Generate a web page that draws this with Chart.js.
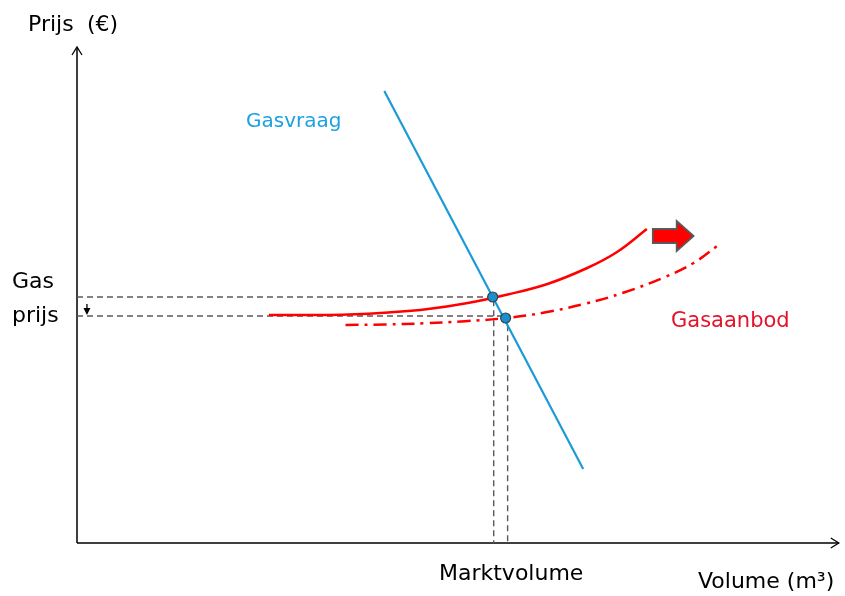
<!DOCTYPE html>
<html>
<head>
<meta charset="utf-8">
<script src="https://cdn.jsdelivr.net/npm/chart.js@4/dist/chart.umd.min.js"></script>
<style>
  html, body { margin: 0; padding: 0; background: #fff; }
  canvas { display: block; }
</style>
</head>
<body>
<canvas id="gasChart" width="845" height="596"></canvas>
<script>
// market diagram values (abstract units: volume on x, price on y)
const demandX = [309, 509];
const demandY = [452, 74];

const supplyX = [193, 233, 273, 313, 353, 393, 433, 473, 513, 543, 573];
const supplyY = [228, 228, 228.5, 230.5, 234, 240, 248.5, 259, 275, 291, 314];

const shiftedX = [270, 310, 350, 390, 430, 470, 510, 550, 590, 620, 645];
const shiftedY = [218, 218.5, 219.8, 221.8, 224.8, 230.5, 239, 250.5, 265.5, 280, 298];

const equilibriumX = [418, 431];
const equilibriumY = [246, 225];

const guideX = [419, 433];
const guideY = [246, 227];

const RED = '#ff0000';
const BLUE = '#1a9bd7';
const GREY = '#5a5a5a';
const FONT = '"DejaVu Sans", Verdana, sans-serif';

const toPoints = (xs, ys) => xs.map((x, i) => ({ x, y: ys[i] }));

function guidePath(i) {
  return [
    { x: 0, y: guideY[i] },
    { x: guideX[i], y: guideY[i] },
    { x: guideX[i], y: 0 },
  ];
}

function arrowHead(ctx, x, y, dir) {
  // open "V" arrow head like the axis arrows
  ctx.beginPath();
  if (dir === 'up') {
    ctx.moveTo(x - 5, y + 8); ctx.lineTo(x, y); ctx.lineTo(x + 5, y + 8);
  } else {
    ctx.moveTo(x - 8, y - 5); ctx.lineTo(x, y); ctx.lineTo(x - 8, y + 5);
  }
  ctx.stroke();
}

const decorations = {
  id: 'decorations',
  beforeDatasetsDraw(chart) {
    const { ctx, chartArea: a, scales: { x, y } } = chart;
    const ox = x.getPixelForValue(0);
    const oy = y.getPixelForValue(0);
    ctx.save();
    ctx.strokeStyle = '#000';
    ctx.lineWidth = 1.5;
    ctx.beginPath();
    ctx.moveTo(ox, oy); ctx.lineTo(ox, a.top);
    ctx.moveTo(ox, oy); ctx.lineTo(a.right, oy);
    ctx.stroke();
    ctx.lineWidth = 1.3;
    arrowHead(ctx, ox, a.top, 'up');
    arrowHead(ctx, a.right, oy, 'right');
    ctx.restore();
  },
  afterDatasetsDraw(chart) {
    const { ctx, scales: { x, y } } = chart;
    ctx.save();

    // small price drop arrow next to the axis
    const ax = x.getPixelForValue(10);
    const ay0 = y.getPixelForValue(guideY[0]) + 7;
    const ay1 = y.getPixelForValue(guideY[1]) - 1;
    ctx.strokeStyle = '#000';
    ctx.fillStyle = '#000';
    ctx.lineWidth = 1.3;
    ctx.beginPath(); ctx.moveTo(ax, ay0); ctx.lineTo(ax, ay1 - 5); ctx.stroke();
    ctx.beginPath();
    ctx.moveTo(ax - 3.5, ay1 - 7); ctx.lineTo(ax + 3.5, ay1 - 7); ctx.lineTo(ax, ay1);
    ctx.closePath(); ctx.fill();

    // big shift arrow
    const bx0 = x.getPixelForValue(579), bx1 = x.getPixelForValue(603), bt = x.getPixelForValue(620);
    const my = y.getPixelForValue(307);
    ctx.beginPath();
    ctx.moveTo(bx0, my - 7); ctx.lineTo(bx1, my - 7); ctx.lineTo(bx1, my - 15);
    ctx.lineTo(bt, my); ctx.lineTo(bx1, my + 15); ctx.lineTo(bx1, my + 7);
    ctx.lineTo(bx0, my + 7); ctx.closePath();
    ctx.fillStyle = RED;
    ctx.fill();
    ctx.strokeStyle = '#595959';
    ctx.lineWidth = 1.8;
    ctx.stroke();

    // texts
    ctx.textBaseline = 'alphabetic';
    ctx.textAlign = 'left';
    ctx.fillStyle = '#000';
    ctx.font = '22px ' + FONT;
    ctx.fillText('Prijs', 28, 31);
    ctx.fillText('(€)', 87, 31);
    ctx.fillText('Gas', 12, 288);
    ctx.fillText('prijs', 12, 322);
    ctx.fillText('Marktvolume', 439, 580);
    ctx.fillText('Volume (m³)', 698, 588);

    ctx.font = '20px ' + FONT;
    ctx.fillStyle = '#1ba1e2';
    ctx.fillText('Gasvraag', 246, 127);

    ctx.font = '21px ' + FONT;
    ctx.fillStyle = '#e3132b';
    ctx.fillText('Gasaanbod', 671, 327);
    ctx.restore();
  },
};

new Chart(document.getElementById('gasChart'), {
  type: 'scatter',
  data: {
    datasets: [
      {
        label: 'Evenwicht',
        data: toPoints(equilibriumX, equilibriumY),
        showLine: false,
        pointRadius: 5,
        pointBackgroundColor: '#1b8fcb',
        pointBorderColor: '#34434f',
        pointBorderWidth: 1.2,
      },
      {
        label: 'Gasvraag',
        data: toPoints(demandX, demandY),
        showLine: true,
        borderColor: BLUE,
        borderWidth: 2.2,
        pointRadius: 0,
      },
      {
        label: 'Gasaanbod',
        data: toPoints(supplyX, supplyY),
        showLine: true,
        borderColor: RED,
        borderWidth: 2.5,
        tension: 0.4,
        pointRadius: 0,
      },
      {
        label: 'Gasaanbod (nieuw)',
        data: toPoints(shiftedX, shiftedY),
        showLine: true,
        borderColor: RED,
        borderWidth: 2.5,
        borderDash: [13, 6, 3, 6],
        tension: 0.4,
        pointRadius: 0,
      },
      {
        label: 'guide1',
        data: guidePath(0),
        showLine: true,
        borderColor: GREY,
        borderWidth: 1.4,
        borderDash: [6, 4],
        pointRadius: 0,
      },
      {
        label: 'guide2',
        data: guidePath(1),
        showLine: true,
        borderColor: GREY,
        borderWidth: 1.4,
        borderDash: [6, 4],
        pointRadius: 0,
      },
    ],
  },
  options: {
    responsive: false,
    animation: false,
    devicePixelRatio: 1,
    clip: false,
    layout: { padding: { left: 77, right: 2, top: 47, bottom: 53 } },
    scales: {
      x: { type: 'linear', min: 0, max: 766, display: false },
      y: { type: 'linear', min: 0, max: 496, display: false },
    },
    plugins: { legend: { display: false }, tooltip: { enabled: false } },
  },
  plugins: [decorations],
});
</script>
</body>
</html>
